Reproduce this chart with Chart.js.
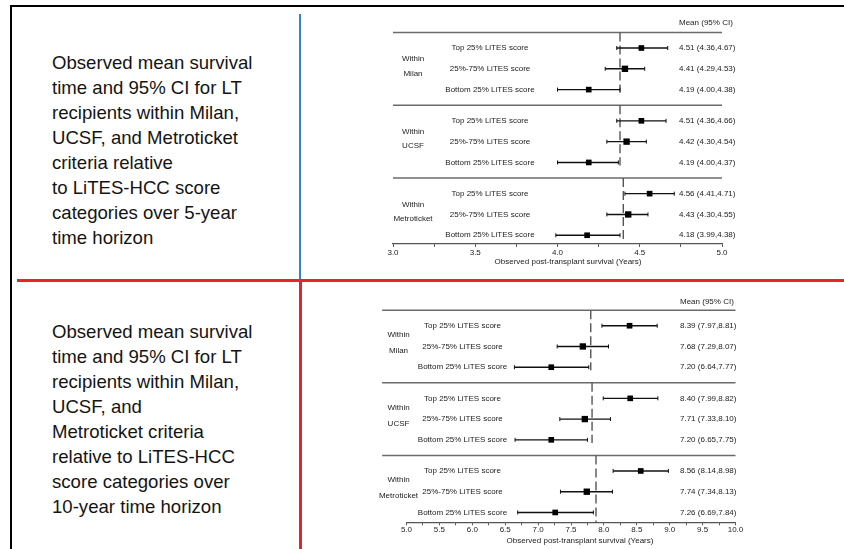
<!DOCTYPE html>
<html><head><meta charset="utf-8">
<script src="https://cdn.jsdelivr.net/npm/chart.js@4.4.1/dist/chart.umd.min.js"></script>
<style>
html,body{margin:0;padding:0;background:#fff;}
body{width:844px;height:549px;overflow:hidden;position:relative;font-family:"Liberation Sans",Arial,sans-serif;}
.abs{position:absolute;}
.desc{position:absolute;left:52px;font-size:18.6px;line-height:25px;color:#141414;white-space:nowrap;}
canvas{position:absolute;}
</style></head><body>
<div class="abs" style="left:10px;top:5px;width:834px;height:2px;background:#000"></div>
<div class="abs" style="left:10px;top:5px;width:2px;height:544px;background:#000"></div>
<div class="abs" style="left:299px;top:14px;width:2px;height:265px;background:#3b7fc4"></div>
<div class="abs" style="left:17px;top:279px;width:827px;height:3px;background:#e8232b"></div>
<div class="abs" style="left:299px;top:280px;width:3px;height:269px;background:#e8232b"></div>
<div class="desc" style="top:50px">Observed mean survival<br>time and 95% CI for LT<br>recipients within Milan,<br>UCSF, and Metroticket<br>criteria relative<br>to LiTES-HCC score<br>categories over 5-year<br>time horizon</div>
<div class="desc" style="top:319px">Observed mean survival<br>time and 95% CI for LT<br>recipients within Milan,<br>UCSF, and<br>Metroticket criteria<br>relative to LiTES-HCC<br>score categories over<br>10-year time horizon</div>
<canvas id="c5" width="542" height="268" style="left:302px;top:10px;width:542px;height:268px"></canvas>
<canvas id="c10" width="542" height="265" style="left:302px;top:284px;width:542px;height:265px"></canvas>
<script>
// ---- data ----
const groups = ['Milan', 'UCSF', 'Metroticket'];
const categories = ['Top 25% LiTES score', '25%-75% LiTES score', 'Bottom 25% LiTES score'];
const headerText = 'Mean (95% CI)';
const axisTitle = 'Observed post-transplant survival (Years)';

// 5-year horizon (order: Milan top/mid/bottom, UCSF ..., Metroticket ...)
const mean5 = [4.51, 4.41, 4.19, 4.51, 4.42, 4.19, 4.56, 4.43, 4.18];
const low5  = [4.36, 4.29, 4.00, 4.36, 4.30, 4.00, 4.41, 4.30, 3.99];
const high5 = [4.67, 4.53, 4.38, 4.66, 4.54, 4.37, 4.71, 4.55, 4.38];
const ref5  = [4.38, 4.38, 4.40];

// 10-year horizon
const mean10 = [8.39, 7.68, 7.20, 8.40, 7.71, 7.20, 8.56, 7.74, 7.26];
const low10  = [7.97, 7.29, 6.64, 7.99, 7.33, 6.65, 8.14, 7.34, 6.69];
const high10 = [8.81, 8.07, 7.77, 8.82, 8.10, 7.75, 8.98, 8.13, 7.84];
const ref10  = [7.80, 7.82, 7.88];

const ticks5 = [3.0, 5.0];
const ticks10 = [5.0, 10.0];

// ---- rendering ----
const FONT = '"Liberation Sans", Arial, sans-serif';
const rowPos = k => Math.floor(k / 3) * 3.5 + (k % 3);

function makeForest(id, c) {
  const ds = [];
  ds.push({
    data: c.mean.map((m, k) => ({x: m, y: rowPos(k)})),
    showLine: false, pointStyle: 'rect',
    pointRadius: c.mean.map((m, k) => k % 3 === 1 ? 4.5 : 4),
    pointBackgroundColor: '#000', pointBorderWidth: 0, clip: false
  });
  c.mean.forEach((m, k) => {
    const y = rowPos(k);
    ds.push({
      data: [{x: c.low[k], y}, {x: c.high[k], y}],
      showLine: true, borderColor: '#111', borderWidth: 1.4,
      pointStyle: 'line', pointRotation: 90, pointRadius: 2,
      pointBorderWidth: 1, pointBorderColor: '#111', clip: false
    });
  });
  groups.forEach((g, gi) => {
    const ys = gi * 3.5 - 0.75;
    const yEnd = gi < groups.length - 1 ? gi * 3.5 + 2.15 : c.yMax;
    ds.push({
      data: [{x: c.ref[gi], y: ys}, {x: c.ref[gi], y: yEnd}],
      showLine: true, borderColor: '#555', borderWidth: 1.4, borderDash: [9, 4],
      pointRadius: 0, clip: false
    });
    ds.push({
      data: [{x: c.sepLeft, y: ys}, {x: c.xMax, y: ys}],
      showLine: true, borderColor: '#6b6b6b', borderWidth: 1.5,
      pointRadius: 0, clip: false
    });
  });

  const textPlugin = {
    id: 'forestText' + id,
    afterDraw(chart) {
      const {ctx, chartArea, scales: {x, y}} = chart;
      ctx.save();
      ctx.font = '8px ' + FONT;
      ctx.fillStyle = '#222';
      ctx.textBaseline = 'middle';
      ctx.textAlign = 'left';
      ctx.fillText(headerText, chartArea.left + c.valueOff, y.getPixelForValue(c.headerRow));
      c.mean.forEach((m, k) => {
        const yy = y.getPixelForValue(rowPos(k));
        ctx.textAlign = 'center';
        ctx.fillText(categories[k % 3], chartArea.left + c.rowOff, yy);
        ctx.textAlign = 'left';
        ctx.fillText(m.toFixed(2) + ' (' + c.low[k].toFixed(2) + ',' + c.high[k].toFixed(2) + ')',
          chartArea.left + c.valueOff, yy);
      });
      ctx.textAlign = 'center';
      groups.forEach((g, gi) => {
        ctx.fillText('Within', chartArea.left + c.groupOff, y.getPixelForValue(gi * 3.5 + c.within));
        ctx.fillText(g, chartArea.left + c.groupOff, y.getPixelForValue(gi * 3.5 + 1.22));
      });
      // axis title (slightly right of axis centre, as in the reference)
      ctx.fillText(axisTitle, (chartArea.left + chartArea.right) / 2 + c.titleShift, chartArea.bottom + c.titleDy);
      ctx.restore();
    }
  };

  return new Chart(document.getElementById(id), {
    type: 'scatter',
    data: {datasets: ds},
    plugins: [textPlugin],
    options: {
      responsive: false, animation: false, events: [], devicePixelRatio: 1,
      layout: {padding: {left: c.padL, right: c.padR, top: c.padT, bottom: 0}},
      elements: {line: {tension: 0}},
      plugins: {legend: {display: false}, tooltip: {enabled: false}},
      scales: {
        x: {
          type: 'linear', min: c.xMin, max: c.xMax,
          afterFit: s => { s.height = c.axisH; },
          ticks: {
            stepSize: 0.25, maxTicksLimit: 60, autoSkip: false, maxRotation: 0, minRotation: 0,
            padding: c.tickPad, color: '#222', font: {family: FONT, size: 8},
            callback: v => Math.abs(v * 2 - Math.round(v * 2)) < 1e-6 ? Number(v).toFixed(1) : ''
          },
          grid: {display: true, drawOnChartArea: false, drawTicks: true, tickLength: 3, color: '#555', lineWidth: 1},
          border: {display: true, color: '#555', width: 1.2},
          title: {display: false}
        },
        y: {type: 'linear', display: false, reverse: true, min: -1.5, max: c.yMax}
      }
    }
  });
}

makeForest('c5', {
  mean: mean5, low: low5, high: high5, ref: ref5,
  xMin: ticks5[0], xMax: ticks5[1], sepLeft: ticks5[0], yMax: 9.42,
  padL: 91, padR: 122, padT: 6.8, axisH: 34, tickPad: 1,
  titleShift: 10.5, titleDy: 18,
  rowOff: 97, groupOff: 20, valueOff: 286, headerRow: -1.2, within: 0.53
});
makeForest('c10', {
  mean: mean10, low: low10, high: high10, ref: ref10,
  xMin: ticks10[0], xMax: ticks10[1], sepLeft: 4.63, yMax: 9.475,
  padL: 104.5, padR: 108.5, padT: 10.6, axisH: 26.7, tickPad: 0,
  titleShift: 9, titleDy: 18,
  rowOff: 56, groupOff: -8, valueOff: 273.5, headerRow: -1.16, within: 0.45
});
</script>
</body></html>
